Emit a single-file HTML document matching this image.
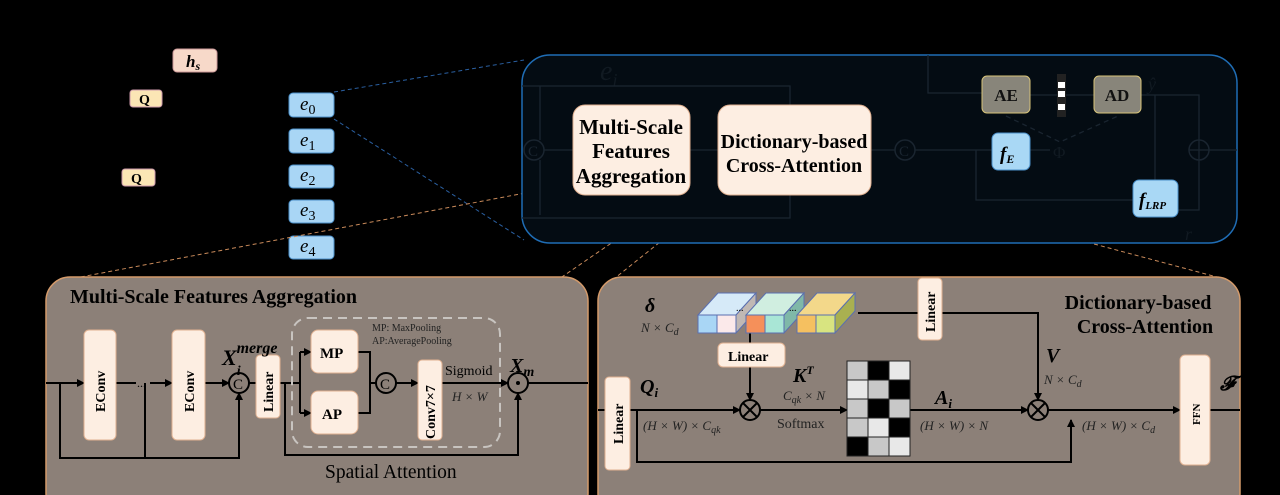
<!DOCTYPE html>
<html><head><meta charset="utf-8"><style>
html,body{margin:0;padding:0;background:#000;}
svg{display:block;}
text{font-family:"Liberation Serif",serif;}
</style></head><body>
<svg width="1280" height="495" viewBox="0 0 1280 495" xmlns="http://www.w3.org/2000/svg">
<defs>
<marker id="a" markerWidth="8" markerHeight="8" refX="7" refY="4" orient="auto" markerUnits="userSpaceOnUse"><path d="M0,0 L8,4 L0,8 z" fill="#000"/></marker>
</defs>
<rect width="1280" height="495" fill="#000"/>
<rect x="173" y="49" width="44" height="23" rx="4" fill="#f7d9c9" stroke="#c99"/>
<text x="186" y="67" font-size="17" font-style="italic" font-weight="bold" fill="#000">h<tspan font-size="12" dy="3">s</tspan></text>
<rect x="130" y="90" width="32" height="17" rx="3" fill="#fbe6b5" stroke="#c9a"/>
<text x="139" y="104" font-size="14" font-weight="bold">Q</text>
<rect x="122" y="169" width="33" height="17" rx="3" fill="#fbe6b5" stroke="#c9a"/>
<text x="131" y="183" font-size="14" font-weight="bold">Q</text>
<g fill="#a9d6f5" stroke="#4a8fc9">
<rect x="289" y="93" width="45" height="24" rx="4"/><rect x="289" y="129" width="45" height="24" rx="4"/>
<rect x="289" y="165" width="45" height="23" rx="4"/><rect x="289" y="200" width="45" height="23" rx="4"/>
<rect x="289" y="236" width="45" height="23" rx="4"/></g>
<g font-size="19" font-style="italic" fill="#000" font-family="Liberation Serif">
<text x="300" y="110">e<tspan font-size="14" font-style="normal" dy="4">0</tspan></text>
<text x="300" y="146">e<tspan font-size="14" font-style="normal" dy="4">1</tspan></text>
<text x="300" y="181">e<tspan font-size="14" font-style="normal" dy="4">2</tspan></text>
<text x="300" y="216">e<tspan font-size="14" font-style="normal" dy="4">3</tspan></text>
<text x="300" y="252">e<tspan font-size="14" font-style="normal" dy="4">4</tspan></text></g>
<line x1="334" y1="92" x2="524" y2="60" stroke="#2a5fa0" stroke-dasharray="4,3"/>
<line x1="334" y1="119" x2="524" y2="240" stroke="#2a5fa0" stroke-dasharray="4,3"/>
<line x1="573" y1="184" x2="70" y2="279" stroke="#c98a5a" stroke-dasharray="4,3"/>
<line x1="680" y1="196" x2="540" y2="292" stroke="#c98a5a" stroke-dasharray="4,3"/>
<line x1="725" y1="190" x2="610" y2="282" stroke="#c98a5a" stroke-dasharray="4,3"/>
<line x1="871" y1="184" x2="1228" y2="280" stroke="#c98a5a" stroke-dasharray="4,3"/>
<rect x="522" y="55" width="715" height="188" rx="28" fill="#040c13" stroke="#1f6db5" stroke-width="1.5"/>
<text x="600" y="80" font-size="28" font-style="italic" fill="#111a22">e<tspan font-size="18" dy="6">i</tspan></text>
<g stroke="#1a2530" stroke-width="1.3" fill="none">
<path d="M522,86 H790 V140"/><path d="M540,86 V140"/>
<path d="M522,218 H790 V160"/><path d="M540,215 V160"/>
<path d="M544,150 H573"/><path d="M690,150 H718"/><path d="M871,150 H895"/>
<path d="M915,150 H992"/><path d="M976,150 V200 H1133"/>
<path d="M1030,150 H1050"/>
<path d="M928,55 V93 H982"/><path d="M1030,95 H1057"/><path d="M1066,95 H1094"/>
<path d="M1141,95 H1199 V140"/><path d="M1155,95 V180"/>
<path d="M1178,210 H1199 V160"/><path d="M1209,150 H1237"/>
<path d="M1006,116 L1060,142 L1118,116" stroke-dasharray="5,4"/>
</g>
<circle cx="534" cy="150" r="10" fill="none" stroke="#1a2530" stroke-width="1.5"/>
<text x="528" y="156" font-size="15" fill="#1a2530" font-family="Liberation Sans">C</text>
<circle cx="905" cy="150" r="10" fill="none" stroke="#1a2530" stroke-width="1.5"/>
<text x="899" y="156" font-size="15" fill="#1a2530" font-family="Liberation Sans">C</text>
<circle cx="1199" cy="150" r="10" fill="none" stroke="#1a2530" stroke-width="1.5"/>
<path d="M1189,150 H1209 M1199,140 V160" stroke="#1a2530" stroke-width="1.3"/>
<rect x="573" y="105" width="117" height="90" rx="12" fill="#fdeee2" stroke="#e0b090"/>
<g font-size="21" font-weight="bold" text-anchor="middle"><text x="631" y="134">Multi-Scale</text><text x="631" y="158">Features</text><text x="631" y="183">Aggregation</text></g>
<rect x="718" y="105" width="153" height="90" rx="12" fill="#fdeee2" stroke="#e0b090"/>
<g font-size="20" font-weight="bold" text-anchor="middle"><text x="794" y="148">Dictionary-based</text><text x="794" y="172">Cross-Attention</text></g>
<rect x="982" y="76" width="48" height="37" rx="5" fill="#88857a" stroke="#d8c47a"/>
<text x="1006" y="101" font-size="17" font-weight="bold" text-anchor="middle" fill="#111">AE</text>
<rect x="1094" y="76" width="47" height="37" rx="5" fill="#88857a" stroke="#d8c47a"/>
<text x="1117" y="101" font-size="17" font-weight="bold" text-anchor="middle" fill="#111">AD</text>
<rect x="1057" y="74" width="9" height="43" fill="#222"/>
<rect x="1058" y="82" width="7" height="6" fill="#fff"/><rect x="1058" y="91" width="7" height="6" fill="#fff"/><rect x="1058" y="104" width="7" height="6" fill="#fff"/>
<rect x="992" y="133" width="38" height="37" rx="6" fill="#a9d8f5" stroke="#4a8fc9"/>
<text x="1000" y="160" font-size="19" font-style="italic" font-weight="bold">f<tspan font-size="12" dy="3">E</tspan></text>
<rect x="1133" y="180" width="45" height="37" rx="6" fill="#a9d8f5" stroke="#4a8fc9"/>
<text x="1139" y="206" font-size="19" font-style="italic" font-weight="bold">f<tspan font-size="11" dy="3">LRP</tspan></text>
<text x="1053" y="158" font-size="17" fill="#111a22">Φ</text>
<text x="1148" y="90" font-size="18" font-style="italic" fill="#111a22">ŷ</text>
<text x="1185" y="240" font-size="18" font-style="italic" fill="#111a22">r</text>
<rect x="46" y="277" width="542" height="240" rx="24" fill="#8c8078" stroke="#d49a6a" stroke-width="1.5"/>
<text x="70" y="303" font-size="20" font-weight="bold">Multi-Scale Features Aggregation</text>
<g stroke="#000" stroke-width="2" fill="none">
<path d="M46,383 H84" marker-end="url(#a)"/><path d="M116,383 H136"/><path d="M150,383 H172" marker-end="url(#a)"/>
<path d="M205,383 H229" marker-end="url(#a)"/><path d="M249,383 H256"/>
<path d="M60,383 V458 H239 V393" marker-end="url(#a)"/><path d="M145,383 V458"/>
<path d="M280,383 H300"/><path d="M300,352 V413"/><path d="M300,352 H311" marker-end="url(#a)"/><path d="M300,413 H311" marker-end="url(#a)"/>
<path d="M285,383 V455 H518 V393" marker-end="url(#a)"/>
<path d="M358,352 H370 V413 H358"/><path d="M370,383 H376"/>
<path d="M396,383 H418" marker-end="url(#a)"/><path d="M442,383 H508" marker-end="url(#a)"/><path d="M528,383 H588"/>
</g>
<text x="137" y="387" font-size="12">...</text>
<rect x="292" y="318" width="208" height="129" rx="16" fill="none" stroke="#c8c4c0" stroke-width="2" stroke-dasharray="9,6"/>
<g fill="#fdeee2" stroke="#e0b090"><rect x="84" y="330" width="32" height="110" rx="5"/><rect x="172" y="330" width="33" height="110" rx="5"/>
<rect x="256" y="355" width="24" height="63" rx="4"/><rect x="311" y="330" width="47" height="43" rx="7"/><rect x="311" y="391" width="47" height="43" rx="7"/>
<rect x="418" y="360" width="24" height="80" rx="4"/></g>
<g font-size="14" font-weight="bold">
<text transform="translate(105,412) rotate(-90)">EConv</text><text transform="translate(194,412) rotate(-90)">EConv</text>
<text transform="translate(273,412) rotate(-90)">Linear</text><text transform="translate(435,439) rotate(-90)">Conv7×7</text>
<text x="320" y="358" font-size="15">MP</text><text x="322" y="419" font-size="15">AP</text></g>
<circle cx="239" cy="383" r="10" fill="none" stroke="#000" stroke-width="2"/><text x="233" y="389" font-size="15" font-family="Liberation Sans">C</text>
<circle cx="386" cy="383" r="10" fill="none" stroke="#000" stroke-width="2"/><text x="380" y="389" font-size="15" font-family="Liberation Sans">C</text>
<circle cx="518" cy="383" r="10" fill="none" stroke="#000" stroke-width="2"/><circle cx="518" cy="383" r="2" fill="#000"/>
<text x="222" y="365" font-size="22" font-style="italic" font-weight="bold">X<tspan font-size="14" dy="10">i</tspan><tspan font-size="16" dx="-4" dy="-22">merge</tspan></text>
<text x="372" y="331" font-size="10" fill="#222">MP: MaxPooling</text><text x="372" y="344" font-size="10" fill="#222">AP:AveragePooling</text>
<text x="445" y="375" font-size="14">Sigmoid</text><text x="452" y="401" font-size="13" font-style="italic" fill="#222">H × W</text>
<text x="510" y="372" font-size="20" font-style="italic" font-weight="bold">X<tspan font-size="14" dy="4">m</tspan></text>
<text x="325" y="478" font-size="19.5">Spatial Attention</text>
<rect x="598" y="277" width="642" height="240" rx="24" fill="#8c8078" stroke="#d49a6a" stroke-width="1.5"/>
<g font-size="20" font-weight="bold" text-anchor="middle"><text x="1138" y="309">Dictionary-based</text><text x="1145" y="333">Cross-Attention</text></g>
<g stroke="#000" stroke-width="2" fill="none">
<path d="M598,410 H740" marker-end="url(#a)"/><path d="M760,410 H847" marker-end="url(#a)"/>
<path d="M910,410 H1028" marker-end="url(#a)"/><path d="M1048,410 H1180" marker-end="url(#a)"/><path d="M1210,410 H1240"/>
<path d="M637,410 V462 H1071 V420" marker-end="url(#a)"/>
<path d="M750,333 V343"/><path d="M750,367 V400" marker-end="url(#a)"/>
<path d="M858,313 H1038 V400" marker-end="url(#a)"/>
</g>
<circle cx="750" cy="410" r="10" fill="none" stroke="#000" stroke-width="2"/><path d="M743,403 L757,417 M757,403 L743,417" stroke="#000" stroke-width="2"/>
<circle cx="1038" cy="410" r="10" fill="none" stroke="#000" stroke-width="2"/><path d="M1031,403 L1045,417 M1045,403 L1031,417" stroke="#000" stroke-width="2"/>
<g fill="#fdeee2" stroke="#e0b090"><rect x="605" y="377" width="25" height="93" rx="4"/><rect x="718" y="343" width="67" height="24" rx="5"/>
<rect x="918" y="278" width="24" height="62" rx="4"/><rect x="1180" y="355" width="30" height="110" rx="5"/></g>
<g font-size="14" font-weight="bold"><text transform="translate(623,444) rotate(-90)">Linear</text><text x="728" y="361">Linear</text>
<text transform="translate(935,332) rotate(-90)">Linear</text><text transform="translate(1200,425) rotate(-90)" font-size="11">FFN</text></g>
<g stroke="#5a6fb0" stroke-width="1">
<polygon points="698,315 718,293 756,293 736,315" fill="#d6eaf8"/><polygon points="736,315 756,293 756,311 736,333" fill="#c0b8b4"/>
<rect x="698" y="315" width="19" height="18" fill="#a9d6f5"/><rect x="717" y="315" width="19" height="18" fill="#fbe9ea"/>
<polygon points="746,315 766,293 804,293 784,315" fill="#d0eee0"/><polygon points="784,315 804,293 804,311 784,333" fill="#7fb8a8"/>
<rect x="746" y="315" width="19" height="18" fill="#f5905a"/><rect x="765" y="315" width="19" height="18" fill="#a9e6d6"/>
<polygon points="797,315 817,293 855,293 835,315" fill="#f3d88a"/><polygon points="835,315 855,293 855,311 835,333" fill="#a9b050"/>
<rect x="797" y="315" width="19" height="18" fill="#f5c060"/><rect x="816" y="315" width="19" height="18" fill="#d8e480"/></g>
<text x="736" y="311" font-size="10">...</text><text x="789" y="311" font-size="10">...</text>
<g stroke="#222" stroke-width="1">
<rect x="847" y="361" width="21" height="19" fill="#c8c8c8"/><rect x="868" y="361" width="21" height="19" fill="#000"/><rect x="889" y="361" width="21" height="19" fill="#e8e8e8"/>
<rect x="847" y="380" width="21" height="19" fill="#e8e8e8"/><rect x="868" y="380" width="21" height="19" fill="#c8c8c8"/><rect x="889" y="380" width="21" height="19" fill="#000"/>
<rect x="847" y="399" width="21" height="19" fill="#c8c8c8"/><rect x="868" y="399" width="21" height="19" fill="#000"/><rect x="889" y="399" width="21" height="19" fill="#c8c8c8"/>
<rect x="847" y="418" width="21" height="19" fill="#c8c8c8"/><rect x="868" y="418" width="21" height="19" fill="#e8e8e8"/><rect x="889" y="418" width="21" height="19" fill="#000"/>
<rect x="847" y="437" width="21" height="19" fill="#000"/><rect x="868" y="437" width="21" height="19" fill="#c8c8c8"/><rect x="889" y="437" width="21" height="19" fill="#e8e8e8"/></g>
<g font-style="italic">
<text x="645" y="312" font-size="20" font-weight="bold">δ</text><text x="641" y="332" font-size="13" fill="#222">N × C<tspan font-size="10" dy="3">d</tspan></text>
<text x="640" y="393" font-size="20" font-weight="bold">Q<tspan font-size="13" dy="4">i</tspan></text>
<text x="643" y="430" font-size="13" fill="#222">(H × W) × C<tspan font-size="10" dy="3">qk</tspan></text>
<text x="793" y="382" font-size="20" font-weight="bold">K<tspan font-size="12" dy="-8">T</tspan></text>
<text x="783" y="400" font-size="13" fill="#222">C<tspan font-size="10" dy="3">qk</tspan><tspan dy="-3"> × N</tspan></text>
<text x="935" y="404" font-size="20" font-weight="bold">A<tspan font-size="13" dy="4">i</tspan></text>
<text x="920" y="430" font-size="13" fill="#222">(H × W) × N</text>
<text x="1046" y="362" font-size="20" font-weight="bold">V</text><text x="1044" y="384" font-size="13" fill="#222">N × C<tspan font-size="10" dy="3">d</tspan></text>
<text x="1082" y="430" font-size="13" fill="#222">(H × W) × C<tspan font-size="10" dy="3">d</tspan></text>
<text x="1220" y="390" font-size="20" font-weight="bold">𝓕</text></g>
<text x="777" y="428" font-size="14" fill="#222">Softmax</text>
</svg>
</body></html>
